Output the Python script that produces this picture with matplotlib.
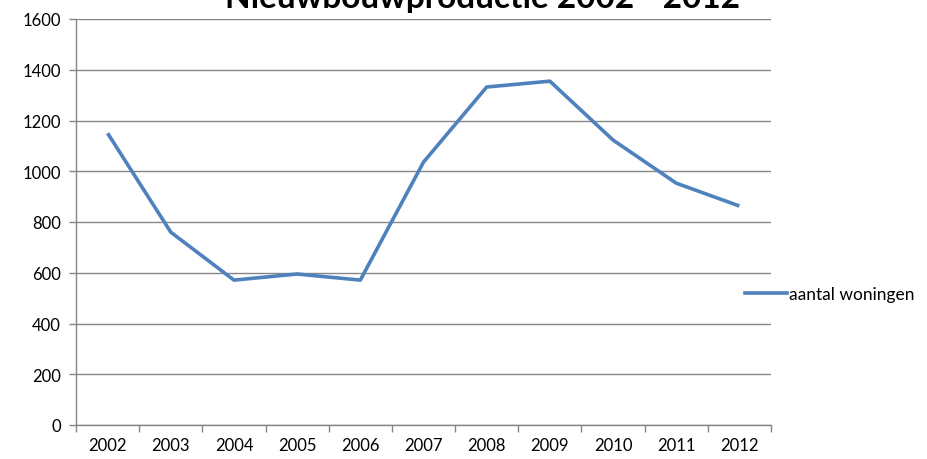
import matplotlib
matplotlib.use("Agg")
import matplotlib.pyplot as plt
from matplotlib.lines import Line2D

years = ["2002", "2003", "2004", "2005", "2006", "2007", "2008", "2009", "2010", "2011", "2012"]
aantal_woningen = [1150, 760, 571, 595, 571, 1036, 1332, 1355, 1123, 953, 863]
y_ticks = [0, 200, 400, 600, 800, 1000, 1200, 1400, 1600]
title = "Nieuwbouwproductie 2002 - 2012"
series_label = "aantal woningen"

plt.rcParams['font.family'] = ['Lato', 'DejaVu Sans']

W, H = 928, 460
fig = plt.figure(figsize=(W / 100, H / 100), dpi=100)
ax = fig.add_axes([76 / W, 1 - 426 / H, (771 - 76) / W, (426 - 20) / H])

x = list(range(len(years)))
ax.plot(x, aantal_woningen, color="#4F81BD", linewidth=2.6, solid_joinstyle="round",
        solid_capstyle="butt", zorder=3)

ax.set_xlim(-0.5, len(years) - 0.5)
ax.set_ylim(0, 1600)
ax.set_yticks(y_ticks)
ax.set_yticklabels([str(v) for v in y_ticks], fontsize=12, color="#000000")
ax.set_xticks(x)
ax.set_xticklabels(years, fontsize=12)
ax.set_xticks([i - 0.5 for i in range(len(years) + 1)], minor=True)
ax.tick_params(axis="x", which="major", length=0, pad=9)
ax.tick_params(axis="x", which="minor", length=5, color="#868686", width=1)
ax.tick_params(axis="y", length=5, color="#868686", width=1, pad=6)

ax.grid(axis="y", color="#868686", linewidth=1)
ax.set_axisbelow(True)
for s in ["top", "right"]:
    ax.spines[s].set_visible(False)
for s in ["left", "bottom"]:
    ax.spines[s].set_color("#868686")
    ax.spines[s].set_linewidth(1)

fig.text(483 / W, 1 - 8 / H, title, ha="center", va="baseline", fontsize=24,
         fontweight="bold", color="#000000")

handle = Line2D([], [], color="#4F81BD", linewidth=2.6)
fig.legend([handle], [series_label], loc="center left", bbox_to_anchor=(745 / W, 1 - 295 / H),
           frameon=False, fontsize=12.5, handlelength=2.4, handletextpad=0.15, borderaxespad=0,
           borderpad=0)

fig.savefig("out.png", dpi=100)
